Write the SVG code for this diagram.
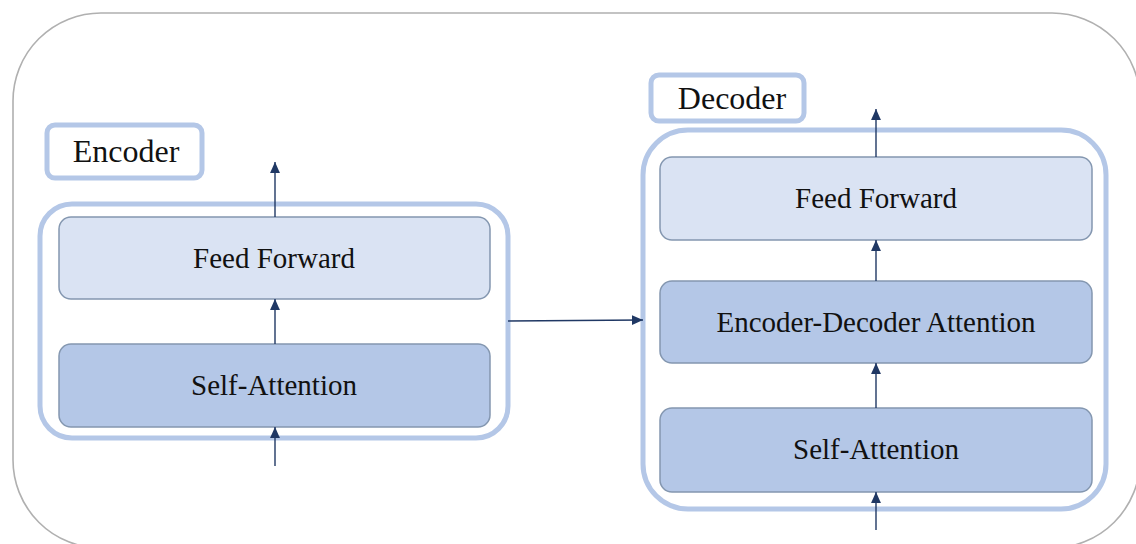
<svg xmlns="http://www.w3.org/2000/svg" width="1136" height="544" viewBox="0 0 1136 544">
  <style>
    .frame { fill: #ffffff; stroke: #b0b0b0; stroke-width: 1.6; }
    .group { fill: none; stroke: #b4c7e7; stroke-width: 5; }
    .label { fill: #ffffff; stroke: #b4c7e7; stroke-width: 5; }
    .ff { fill: #dae3f3; stroke: #8497b0; stroke-width: 1.5; }
    .att { fill: #b4c7e7; stroke: #8497b0; stroke-width: 1.5; }
    .t { font-family: "Liberation Serif", "Times New Roman", serif; fill: #111111; text-anchor: middle; }
    .big { font-size: 32px; }
    .mid { font-size: 29px; }
    .conn line { stroke: #203864; stroke-width: 1.4; marker-end: url(#head); }
  </style>
  <defs>
    <marker id="head" viewBox="0 0 10 10" refX="10" refY="5" markerWidth="11" markerHeight="11" markerUnits="userSpaceOnUse" orient="auto">
      <path d="M0,0.5 L10,5 L0,9.5 z" fill="#203864"/>
    </marker>
  </defs>

  <!-- outer frame -->
  <rect class="frame" x="13" y="13" width="1127" height="535" rx="88" ry="88"/>

  <!-- encoder -->
  <g id="encoder">
    <rect class="group" x="40" y="204" width="468" height="234" rx="32"/>
  </g>
  <g id="encoder-label">
    <rect class="label" x="47" y="125" width="155" height="53" rx="8"/>
    <text class="t big" x="126" y="162">Encoder</text>
  </g>
  <g id="enc-feed-forward">
    <rect class="ff" x="59" y="217" width="431" height="82" rx="12"/>
    <text class="t mid" x="274" y="268">Feed Forward</text>
  </g>
  <g id="enc-self-attention">
    <rect class="att" x="59" y="344" width="431" height="83" rx="12"/>
    <text class="t mid" x="274" y="395">Self-Attention</text>
  </g>

  <!-- decoder -->
  <g id="decoder">
    <rect class="group" x="643" y="130" width="463" height="379" rx="45"/>
  </g>
  <g id="decoder-label">
    <rect class="label" x="651" y="75" width="153" height="46" rx="8"/>
    <text class="t big" x="732" y="109">Decoder</text>
  </g>
  <g id="dec-feed-forward">
    <rect class="ff" x="660" y="157" width="432" height="83" rx="12"/>
    <text class="t mid" x="876" y="208">Feed Forward</text>
  </g>
  <g id="dec-enc-dec-attention">
    <rect class="att" x="660" y="281" width="432" height="82" rx="12"/>
    <text class="t mid" x="876" y="332">Encoder-Decoder Attention</text>
  </g>
  <g id="dec-self-attention">
    <rect class="att" x="660" y="408" width="432" height="84" rx="12"/>
    <text class="t mid" x="876" y="459">Self-Attention</text>
  </g>

  <!-- connectors -->
  <g class="conn" id="connectors">
    <line x1="275" y1="466" x2="275" y2="427"/>
    <line x1="275" y1="344" x2="275" y2="299"/>
    <line x1="275" y1="217" x2="275" y2="162"/>
    <line x1="508" y1="321" x2="643" y2="320"/>
    <line x1="876" y1="530" x2="876" y2="492"/>
    <line x1="876" y1="408" x2="876" y2="363"/>
    <line x1="876" y1="281" x2="876" y2="240"/>
    <line x1="876" y1="157" x2="876" y2="109"/>
  </g>
</svg>
